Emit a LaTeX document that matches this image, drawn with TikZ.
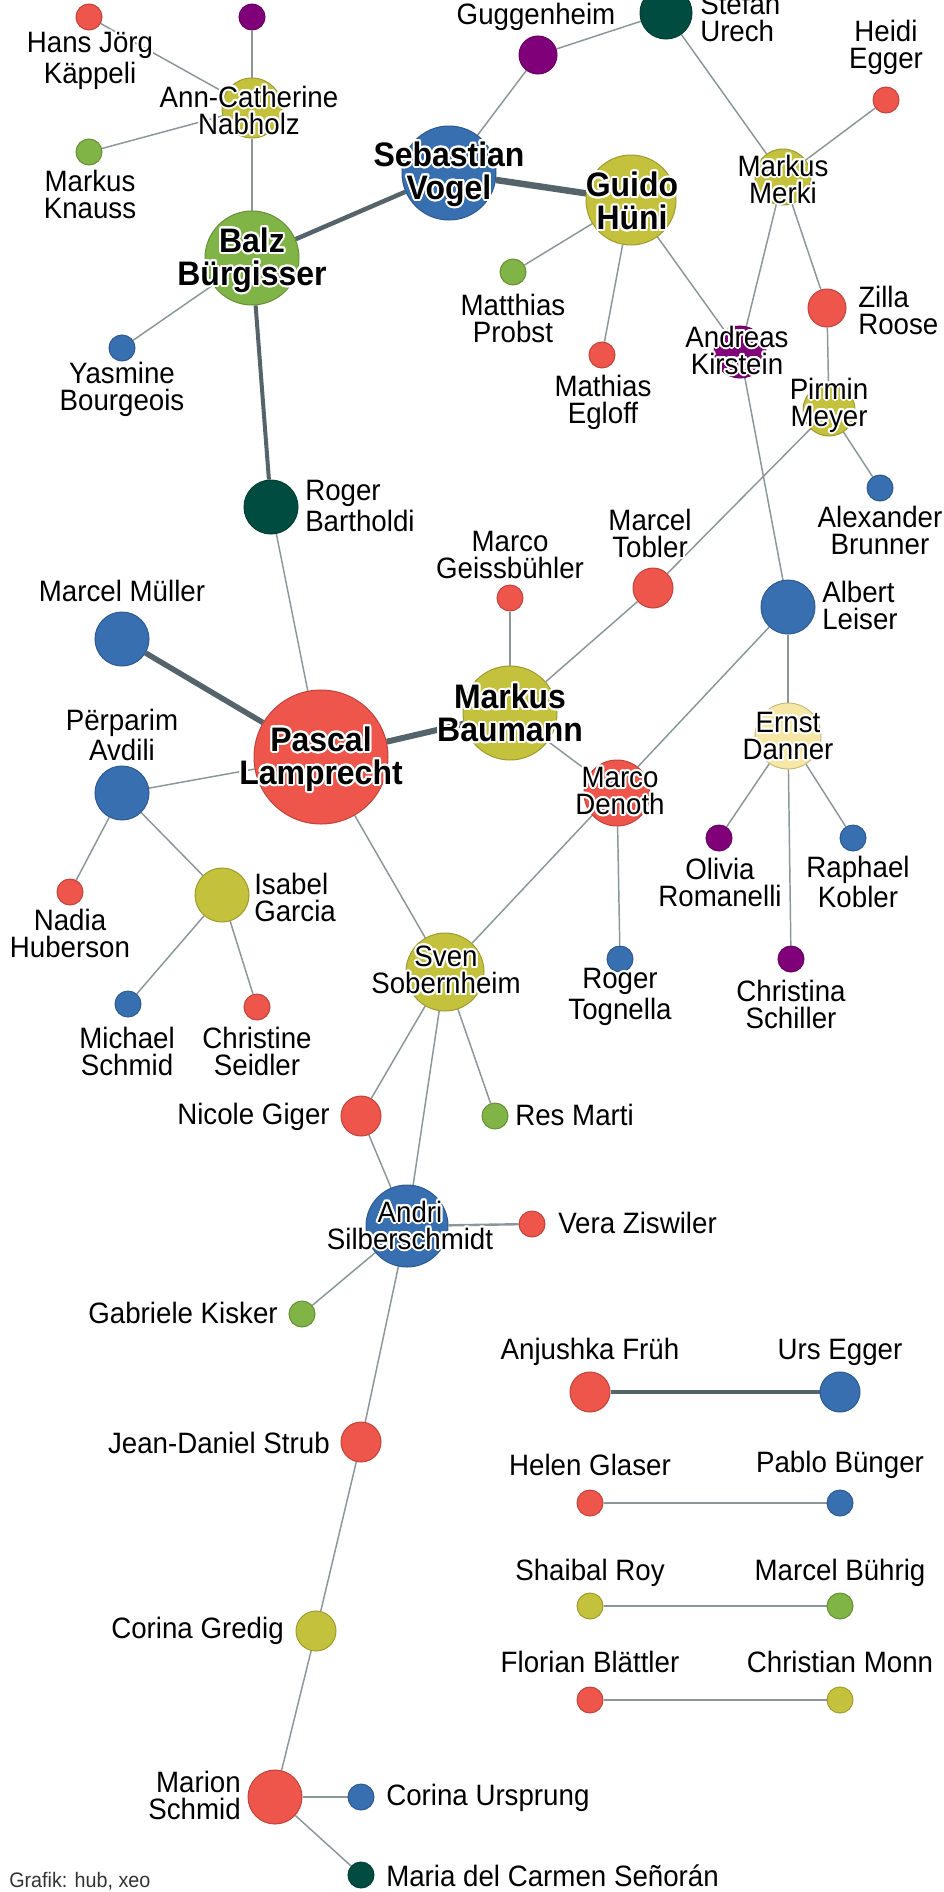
\documentclass[tikz,border=0pt]{standalone}
\usepackage{fontspec}
\setmainfont{Liberation Sans}[FakeStretch=0.94]
\usepackage[copies]{contour}
\contourlength{1.5pt}
\usetikzlibrary{backgrounds}
\definecolor{rot}{RGB}{238,85,75}
\definecolor{blau}{RGB}{56,111,176}
\definecolor{gelb}{RGB}{196,194,60}
\definecolor{gruen}{RGB}{128,180,70}
\definecolor{lila}{RGB}{128,0,122}
\definecolor{dunkel}{RGB}{0,76,64}
\definecolor{hell}{RGB}{246,232,164}
\definecolor{kante}{RGB}{138,150,152}
\definecolor{dick}{RGB}{85,100,106}
\newcommand{\lblfont}{\fontsize{22.1pt}{20.25pt}\selectfont}
\newcommand{\bldfont}{\fontsize{25.5pt}{24.75pt}\selectfont\bfseries}
\newcommand{\eins}[1]{\contour{white}{#1}}
\newcommand{\zwei}[2]{\contour{white}{#1}\\\contour{white}{#2}}

\begin{document}
\begin{tikzpicture}[x=0.75pt,y=-0.75pt,
    pers/.style 2 args={circle, inner sep=0pt, minimum size=#1*1.5pt, fill=#2, draw=#2!80!black, line width=0.75pt},
    lbl/.style={font=\lblfont, inner sep=0pt},
    lblb/.style={font=\bldfont, align=center, inner sep=0pt},
    linie/.style={draw=kante, line width=1.1pt},
    band/.style={draw=dick, line width=#1*0.75pt}]
  \useasboundingbox (0,0) rectangle (944,1892);
  \clip (0,0) rectangle (944,1892);
  % les personnes : nom/x/y/rayon/couleur
  \foreach \n/\x/\y/\r/\c in {hkaeppeli/89/17/13/rot, lilaoben/252/17/13/lila,
      acnabholz/252/108/30/gelb, mknauss/89/152/13/gruen, bbuergisser/252/258/47/gruen,
      ybourgeois/122/348/13/blau, guggenheim/538/55/19/lila, surech/666/13/26/dunkel,
      svogel/449/173/47/blau, ghueni/631/200/45/gelb, hegger/886/100/13/rot,
      mmerki/783/177/28/gelb, mprobst/513/272/13/gruen, megloff/602/355/13/rot,
      akirstein/740/352/26/lila, zroose/827/308/19/rot, pmeyer/829/410/26/gelb,
      rbartholdi/271/507/27/dunkel, mmueller/122/639/27/blau, plamprecht/321/757/67/rot,
      pavdili/122/793/27/blau, mgeissbuehler/510/598/13/rot, mtobler/653/588/20/rot,
      abrunner/880/488/13/blau, aleiser/788/607/27/blau, mbaumann/510/713/47/gelb,
      edanner/788/736/33/hell, mdenoth/617/793/33/rot, oromanelli/719/838/13/lila,
      rkobler/853/838/13/blau, nhuberson/70/892/13/rot, igarcia/222/895/27/gelb,
      mschmid/128/1004/13/blau, cseidler/257/1007/13/rot, ssobernheim/445/972/39/gelb,
      rtognella/620/959/13/blau, cschiller/791/959/13/lila, ngiger/361/1116/20/rot,
      rmarti/495/1116/13/gruen, asilberschmidt/407/1226/41/blau, vziswiler/532/1224/13/rot,
      gkisker/302/1314/13/gruen, jdstrub/361/1442/20/rot, cgredig/316/1631/20/gelb,
      marschmid/275/1797/27/rot, cursprung/361/1797/13/blau, mdcsenoran/361/1875/13/dunkel,
      afrueh/590/1392/20/rot, uegger/840/1392/20/blau, hglaser/590/1503/13/rot,
      pbuenger/840/1503/13/blau, sroy/590/1606/13/gelb, mbuehrig/840/1606/13/gruen,
      fblaettler/590/1700/13/rot, cmonn/840/1700/13/gelb}
    \node[pers={\r}{\c}] (\n) at (\x,\y) {};
  % les liens
  \begin{scope}[on background layer]
    \foreach \a/\b in {hkaeppeli/acnabholz, lilaoben/acnabholz, mknauss/acnabholz,
        acnabholz/bbuergisser, ybourgeois/bbuergisser, guggenheim/svogel, guggenheim/surech,
        surech/mmerki, hegger/mmerki, mmerki/akirstein, mmerki/zroose, zroose/pmeyer,
        ghueni/mprobst, ghueni/megloff, ghueni/akirstein, akirstein/aleiser, pmeyer/abrunner,
        pmeyer/mtobler, mtobler/mbaumann, mgeissbuehler/mbaumann, mbaumann/mdenoth,
        aleiser/ssobernheim, aleiser/edanner, edanner/oromanelli, edanner/rkobler,
        edanner/cschiller, mdenoth/rtognella, plamprecht/rbartholdi, plamprecht/pavdili,
        plamprecht/ssobernheim, pavdili/nhuberson, pavdili/igarcia, igarcia/mschmid,
        igarcia/cseidler, ssobernheim/ngiger, ssobernheim/rmarti, ssobernheim/asilberschmidt,
        ngiger/asilberschmidt, asilberschmidt/gkisker, asilberschmidt/jdstrub,
        jdstrub/cgredig, cgredig/marschmid, marschmid/mdcsenoran}
      \draw[linie] (\a) -- (\b);
    \foreach \a/\b in {asilberschmidt/vziswiler, marschmid/cursprung, hglaser/pbuenger,
        sroy/mbuehrig, fblaettler/cmonn}
      \draw[linie, line width=1.8pt] (\a) -- (\b);
    \foreach \a/\b/\w in {bbuergisser/svogel/4.5, svogel/ghueni/6.5, bbuergisser/rbartholdi/4,
        mmueller/plamprecht/5.5, plamprecht/mbaumann/6, afrueh/uegger/4.5}
      \draw[band=\w] (\a) -- (\b);
  \end{scope}
  % les noms : nom/ancre/alignement/x/y/texte
  \foreach \n/\a/\al/\x/\y/\t in {
      hkaeppeli/center/center/90/62/{\zwei{Hans Jörg}{Käppeli}},
      acnabholz/center/center/249/111/{\zwei{Ann-Catherine}{Nabholz}},
      mknauss/center/center/90/195/{\zwei{Markus}{Knauss}},
      ybourgeois/center/center/122/390/{\zwei{Yasmine}{Bourgeois}},
      guggenheim/center/center/536/18/{\eins{Guggenheim}},
      surech/west/left/700/18/{\zwei{Stefan}{Urech}},
      hegger/center/center/886/48/{\zwei{Heidi}{Egger}},
      mmerki/center/center/783/180/{\zwei{Markus}{Merki}},
      mprobst/center/center/513/319/{\zwei{Matthias}{Probst}},
      megloff/center/center/603/403/{\zwei{Mathias}{Egloff}},
      akirstein/center/center/737/351/{\zwei{Andreas}{Kirstein}},
      zroose/west/left/858/311/{\zwei{Zilla}{Roose}},
      pmeyer/center/center/829/406/{\zwei{Pirmin}{Meyer}},
      rbartholdi/west/left/305/507/{\zwei{Roger}{Bartholdi}},
      mmueller/center/center/122/592/{\eins{Marcel Müller}},
      pavdili/center/center/122/736/{\zwei{Përparim}{Avdili}},
      mgeissbuehler/center/center/510/556/{\zwei{Marco}{Geissbühler}},
      mtobler/center/center/650/534/{\zwei{Marcel}{Tobler}},
      abrunner/center/center/880/531/{\zwei{Alexander}{Brunner}},
      aleiser/west/left/822/606/{\zwei{Albert}{Leiser}},
      edanner/center/center/788/737/{\zwei{Ernst}{Danner}},
      mdenoth/center/center/620/792/{\zwei{Marco}{Denoth}},
      oromanelli/center/center/720/883/{\zwei{Olivia}{Romanelli}},
      rkobler/center/center/858/883/{\zwei{Raphael}{Kobler}},
      nhuberson/center/center/70/934/{\zwei{Nadia}{Huberson}},
      igarcia/west/left/254/898/{\zwei{Isabel}{Garcia}},
      mschmid/center/center/127/1052/{\zwei{Michael}{Schmid}},
      cseidler/center/center/257/1052/{\zwei{Christine}{Seidler}},
      ssobernheim/center/center/446/971/{\zwei{Sven}{Sobernheim}},
      rtognella/center/center/620/998/{\zwei{Roger}{Tognella}},
      cschiller/center/center/791/1005/{\zwei{Christina}{Schiller}},
      ngiger/east/right/330/1118/{\eins{Nicole Giger}},
      rmarti/west/left/515/1116/{\eins{Res Marti}},
      asilberschmidt/center/center/410/1226/{\zwei{Andri}{Silberschmidt}},
      vziswiler/west/left/558/1224/{\eins{Vera Ziswiler}},
      gkisker/east/right/278/1314/{\eins{Gabriele Kisker}},
      jdstrub/east/right/330/1444/{\eins{Jean-Daniel Strub}},
      cgredig/east/right/284/1632/{\eins{Corina Gredig}},
      marschmid/east/right/241/1796/{\zwei{Marion}{Schmid}},
      cursprung/west/left/386/1799/{\eins{Corina Ursprung}},
      mdcsenoran/west/left/386/1877/{\eins{Maria del Carmen Señorán}},
      afrueh/center/center/590/1353/{\eins{Anjushka Früh}},
      uegger/center/center/840/1353/{\eins{Urs Egger}},
      hglaser/center/center/590/1466/{\eins{Helen Glaser}},
      pbuenger/center/center/840/1466/{\eins{Pablo Bünger}},
      sroy/center/center/590/1574/{\eins{Shaibal Roy}},
      mbuehrig/center/center/840/1574/{\eins{Marcel Bührig}},
      fblaettler/center/center/590/1663/{\eins{Florian Blättler}},
      cmonn/center/center/840/1663/{\eins{Christian Monn}}}
    \node[lbl, anchor=\a, align=\al] (t-\n) at (\x,\y) {\t};
  % les noms en gras
  \node[lblb] (t-bbuergisser) at (252,261) {\zwei{Balz}{Bürgisser}};
  \node[lblb] (t-svogel) at (449,175) {\zwei{Sebastian}{Vogel}};
  \node[lblb] (t-ghueni) at (632,202) {\zwei{Guido}{Hüni}};
  \node[lblb] (t-plamprecht) at (321,760) {\zwei{Pascal}{Lamprecht}};
  \node[lblb] (t-mbaumann) at (510,714) {\zwei{Markus}{Baumann}};
  \node[font=\fontsize{15.75pt}{18pt}\selectfont, text=black!80, inner sep=0pt, anchor=base west]
    (quelle) at (9,1887) {Grafik: hub, xeo};
\end{tikzpicture}
\end{document}
